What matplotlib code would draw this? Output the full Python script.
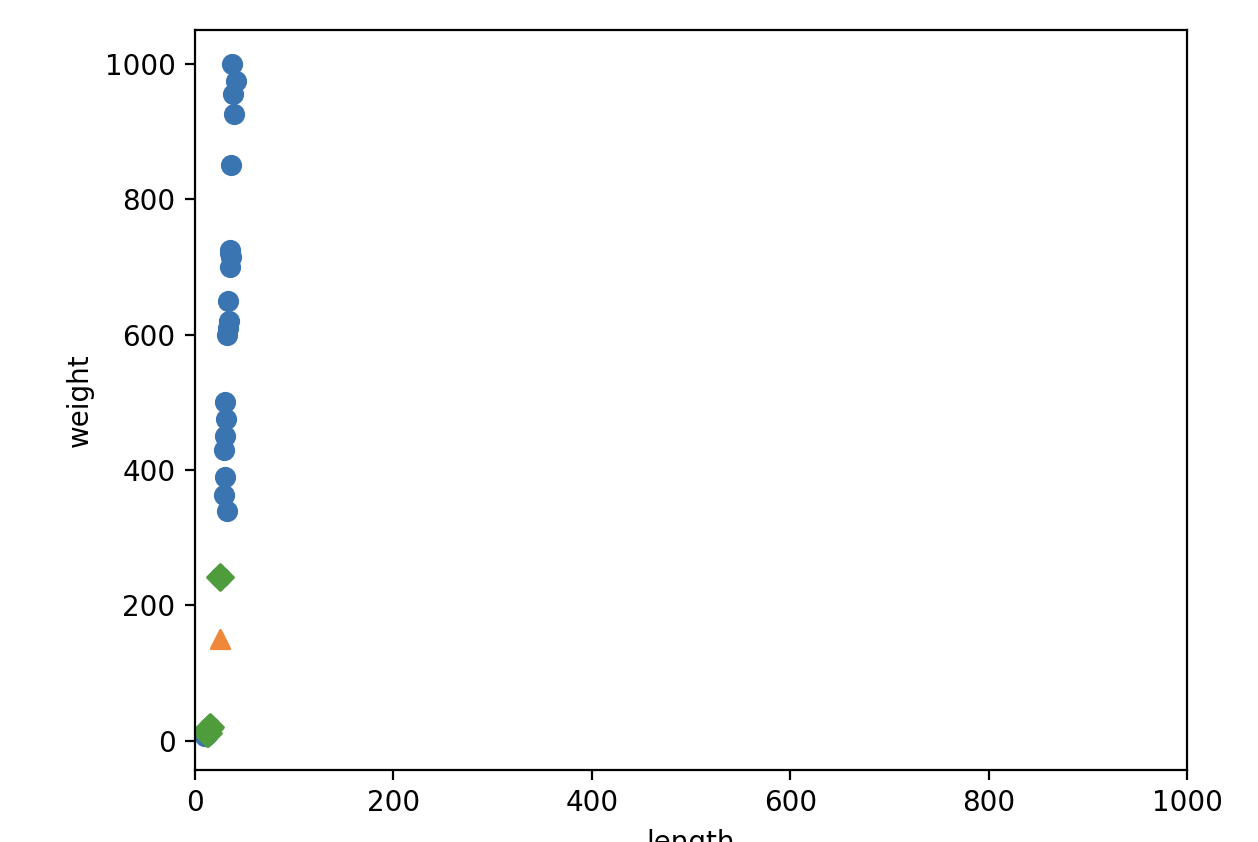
import matplotlib

matplotlib.use("Agg")
import matplotlib.pyplot as plt

# training fish (length, weight)
fish_length = [37.0, 41.0, 38.5, 39.5, 36.0, 35.0, 35.0, 36.0, 35.0, 33.5, 34.5,
               33.5, 32.0, 30.7, 31.0, 30.0, 29.0, 30.0, 29.0, 32.0, 25.4,
               9.8, 10.5, 11.0, 11.2, 11.8, 12.0, 12.2, 13.0, 14.3, 15.0]
fish_weight = [1000.0, 975.0, 955.0, 925.0, 850.0, 725.0, 720.0, 714.0, 700.0, 650.0, 620.0,
               610.0, 600.0, 500.0, 475.0, 450.0, 430.0, 390.0, 363.0, 340.0, 242.0,
               6.7, 7.5, 9.7, 9.8, 10.0, 9.8, 12.2, 12.2, 19.7, 19.9]

new_fish = (25, 150)

neighbor_length = [25.4, 15.0, 14.3, 13.0, 12.2]
neighbor_weight = [242.0, 19.9, 19.7, 12.2, 12.2]

fig = plt.figure(figsize=(6.29, 4.21), dpi=200)
ax = fig.add_axes([195 / 1258, 72 / 842, 992 / 1258, 740 / 842])

ax.scatter(fish_length, fish_weight, s=44, color="#3a74b1")
ax.scatter(new_fish[0], new_fish[1], s=44, marker="^", color="#f0883a")
ax.scatter(neighbor_length, neighbor_weight, s=44, marker="D", color="#4f9c3c")
ax.set_xlim((0, 1000))
ax.set_xlabel("length")
ax.set_ylabel("weight")

fig.savefig("out.png", dpi=200)
plt.close(fig)
